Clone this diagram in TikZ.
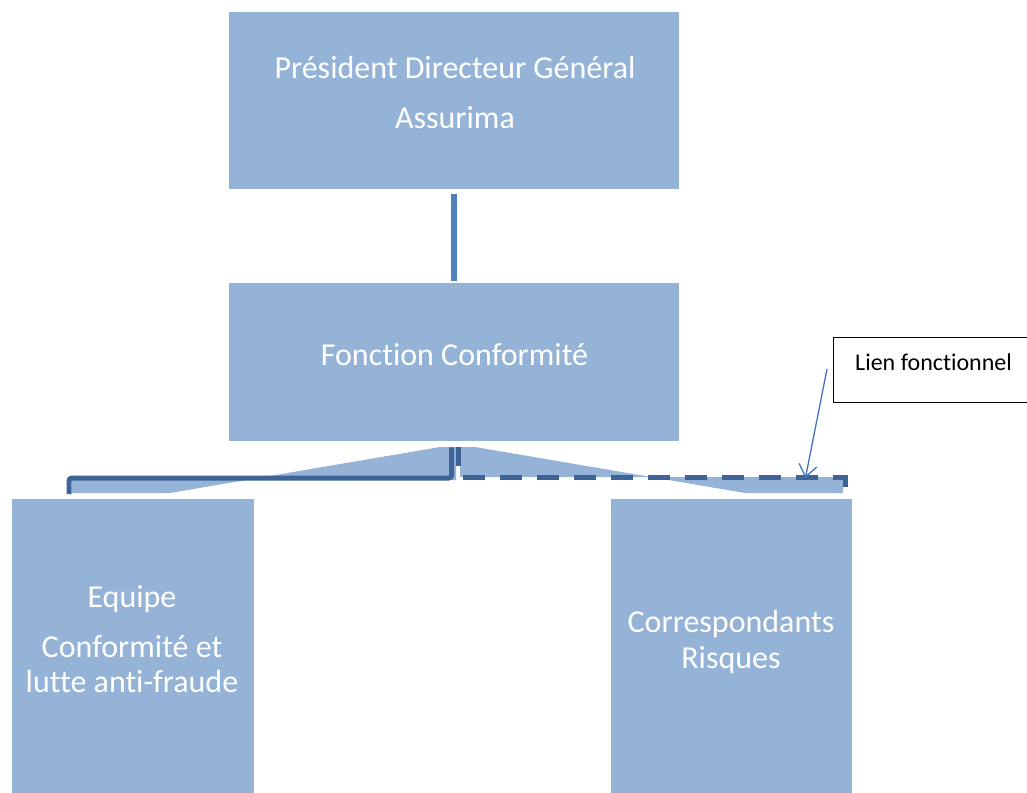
\documentclass[tikz,border=0pt]{standalone}
\usepackage{fontspec}
\setmainfont{Carlito}[Ligatures=NoCommon]
\usetikzlibrary{arrows.meta,calc}
\definecolor{boxblue}{HTML}{95B3D7}
\definecolor{linkblue}{HTML}{4F81BD}
\definecolor{darkblue}{HTML}{3E6497}
\definecolor{arrowblue}{HTML}{4472C4}
\begin{document}
\begin{tikzpicture}[x=1pt,y=-1pt,
  orgbox/.style={fill=boxblue, draw=none, inner sep=0pt, anchor=north west},
  boxtext/.style={text=white, font=\fontsize{32}{38}\selectfont, inner sep=0pt, anchor=base},
  bracketline/.style={darkblue, line width=5pt},
  linkdash/.style={darkblue, line width=5pt, dash pattern=on 22pt off 15pt}
]
\clip (0,0) rectangle (1027,792);
\fill[white] (0,0) rectangle (1027,792);
% boxes
\node[orgbox, minimum width=450pt, minimum height=177pt] (pdg) at (229,12) {};
\node[orgbox, minimum width=450pt, minimum height=158pt] (fc) at (229,283) {};
\node[orgbox, minimum width=242pt, minimum height=300pt] (eq) at (12,499) {};
\node[orgbox, minimum width=241pt, minimum height=300pt] (cr) at (611,499) {};
\node[draw=black, line width=1.2pt, fill=white, minimum width=230pt, minimum height=65pt, anchor=north west, inner sep=0pt] (lien) at (833,337) {};
% texts
\node[boxtext] (pdg1) at (455,78) {Président Directeur Général};
\node[boxtext] (pdg2) at (455,128) {Assurima};
\node[boxtext] (fc1) at (454.5,365) {Fonction Conformité};
\node[boxtext] (eq1) at (132,607) {Equipe};
\node[boxtext] (eq2) at (132,657) {Conformité et};
\node[boxtext] (eq3) at (132,692) {lutte anti-fraude};
\node[boxtext] (cr1) at (731,632) {Correspondants};
\node[boxtext] (cr2) at (731,668) {Risques};
\node[font=\fontsize{24}{28}\selectfont, anchor=base west, inner sep=0pt] (lien1) at (855,370) {Lien fonctionnel};
% top connector
\draw[linkblue, line width=6pt] ($(pdg.south)+(0,5)$) -- ($(fc.north)+(0,-2)$);
% light fills under the connectors
\fill[boxblue] (440,447) -- (456,447) -- (456,480) -- (72,480) -- (72,493) -- (170,493) -- cycle;
\fill[boxblue] (460,447) -- (475,447) -- (745,493) -- (843,493) -- (843,477) -- (460,477) -- cycle;
% solid bracket to left box
\draw[bracketline, rounded corners=3pt] ($(fc.south)+(-2.5,6)$) |- ($(eq.north west)+(57,-21)$) -- ($(eq.north west)+(57,-5)$);
% dashed functional link to right box
\draw[bracketline] ($(fc.south)+(4.5,6)$) -- ($(fc.south)+(4.5,25)$);
\draw[linkdash] ($(fc.south)+(8.5,36)$) -| ($(cr.north east)+(-7,-6)$);
% callout arrow
\draw[arrowblue, line width=1.3pt, -{Straight Barb[length=12pt,width=18pt]}] ($(lien.west)+(-6,-1)$) -- ($(cr.north east)+(-47,-21)$);
\end{tikzpicture}
\end{document}
